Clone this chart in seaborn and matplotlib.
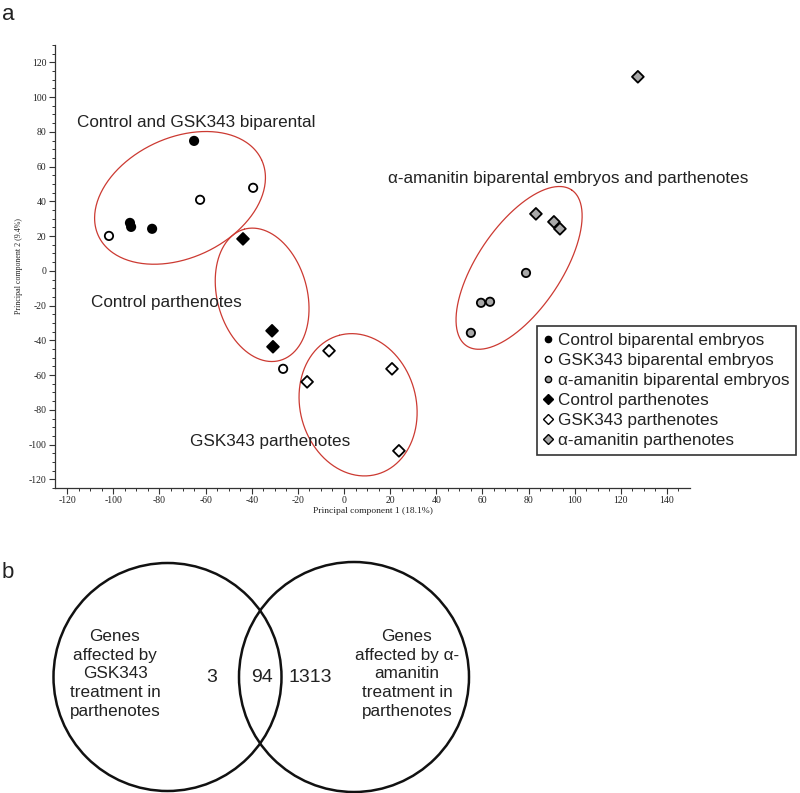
import numpy as np
import pandas as pd
import matplotlib
matplotlib.use("Agg")
import matplotlib.pyplot as plt
import seaborn as sns
from matplotlib.lines import Line2D
from matplotlib.patches import Circle

# ---------------- data ----------------
groups = ["Control biparental embryos", "GSK343 biparental embryos",
          "α-amanitin biparental embryos", "Control parthenotes",
          "GSK343 parthenotes", "α-amanitin parthenotes"]
ctrl_bi_x = [-65.0, -92.8, -92.3, -83.2]
ctrl_bi_y = [74.8, 27.6, 25.3, 24.2]
gsk_bi_x = [-101.9, -62.4, -39.4, -26.4]
gsk_bi_y = [20.1, 40.9, 47.8, -56.4]
ama_bi_x = [78.9, 59.4, 63.3, 55.0]
ama_bi_y = [-1.2, -18.4, -17.8, -35.7]
ctrl_pa_x = [-43.8, -31.2, -30.8]
ctrl_pa_y = [18.4, -34.5, -43.7]
gsk_pa_x = [-16.0, -6.5, 20.8, 23.8]
gsk_pa_y = [-63.9, -46.0, -56.4, -103.6]
ama_pa_x = [127.4, 83.2, 91.0, 93.6]
ama_pa_y = [111.7, 32.8, 28.2, 24.2]

xticks = list(range(-120, 141, 20))
yticks = list(range(-120, 121, 20))

venn_counts = [3, 94, 1313]
venn_left_label = "Genes\naffected by\nGSK343\ntreatment in\nparthenotes"
venn_right_label = "Genes\naffected by α-\namanitin\ntreatment in\nparthenotes"

cluster_labels = ["Control and GSK343 biparental",
                  "α-amanitin biparental embryos and parthenotes",
                  "Control parthenotes", "GSK343 parthenotes"]

xs = [ctrl_bi_x, gsk_bi_x, ama_bi_x, ctrl_pa_x, gsk_pa_x, ama_pa_x]
ys = [ctrl_bi_y, gsk_bi_y, ama_bi_y, ctrl_pa_y, gsk_pa_y, ama_pa_y]
df = pd.DataFrame({
    "PC1": np.concatenate(xs),
    "PC2": np.concatenate(ys),
    "group": np.concatenate([[g] * len(x) for g, x in zip(groups, xs)]),
})

GRAY = "#a8a8a8"
palette = {groups[0]: "black", groups[1]: "white", groups[2]: GRAY,
           groups[3]: "black", groups[4]: "white", groups[5]: GRAY}
markers = {groups[0]: "o", groups[1]: "o", groups[2]: "o",
           groups[3]: "D", groups[4]: "D", groups[5]: "D"}

# ---------------- style ----------------
sns.set_style("ticks")
plt.rcParams["font.family"] = ["Liberation Sans", "DejaVu Sans"]
SERIF = ["Liberation Serif", "DejaVu Serif"]
TXT = "#222222"

W, H = 800, 793
fig = plt.figure(figsize=(W / 100, H / 100), dpi=100)

# main PCA axes (pixel box: left 55, right 690, top 45, bottom 488)
ax = fig.add_axes([55 / W, 1 - 488 / H, (690 - 55) / W, (488 - 45) / H])
sns.scatterplot(data=df, x="PC1", y="PC2", hue="group", style="group",
                palette=palette, markers=markers, s=36, edgecolor="black",
                linewidth=1.3, legend=False, ax=ax, zorder=3)

ax.set_xlim(-125.3, 150)
ax.set_ylim(-125, 130)
ax.set_xticks(xticks)
ax.set_yticks(yticks)
ax.set_xticks(np.arange(-120, 150, 5), minor=True)
ax.set_yticks(np.arange(-125, 131, 5), minor=True)
ax.set_xticklabels([str(t) for t in xticks], fontfamily=SERIF, fontsize=7, color=TXT)
ax.set_yticklabels([str(t) for t in yticks], fontfamily=SERIF, fontsize=7, color=TXT)
ax.tick_params(which="major", length=4, width=0.8, color="#333333", pad=2)
ax.tick_params(which="minor", length=2.5, width=0.7, color="#333333")
for sp in ["top", "right"]:
    ax.spines[sp].set_visible(False)
for sp in ["left", "bottom"]:
    ax.spines[sp].set_linewidth(0.9)
    ax.spines[sp].set_color("#333333")
ax.set_xlabel("Principal component 1 (18.1%)", fontfamily=SERIF, fontsize=6.8,
              color=TXT, labelpad=1)
ax.set_ylabel("Principal component 2 (9.4%)", fontfamily=SERIF, fontsize=5.8,
              color=TXT, labelpad=4)

# cluster ellipses (center in data units, semi-axes in pixels, angle in degrees on screen)
fig.canvas.draw()
bb = ax.get_window_extent()
sx = bb.width / (ax.get_xlim()[1] - ax.get_xlim()[0])
sy = bb.height / (ax.get_ylim()[1] - ax.get_ylim()[0])
ellipses = [(-71.1, 42.0, 90, 60, 25), (-35.5, -13.8, 68, 45, 105),
            (6.1, -77.1, 72, 58, 105), (75.9, 1.7, 94, 42, 56)]
t = np.linspace(0, 2 * np.pi, 300)
for cx, cy, a, b, ang in ellipses:
    phi = np.deg2rad(ang)
    dx = a * np.cos(t) * np.cos(phi) - b * np.sin(t) * np.sin(phi)
    dy = a * np.cos(t) * np.sin(phi) + b * np.sin(t) * np.cos(phi)
    ax.plot(cx + dx / sx, cy + dy / sy, color="#cc3a32", lw=0.9, zorder=2)

# cluster labels (positioned in figure pixels)
label_pos = [(77, 122), (388, 178), (91, 303), (190, 442)]
for txt, (px, py) in zip(cluster_labels, label_pos):
    fig.text(px / W, 1 - py / H, txt, fontsize=12.3, color=TXT,
             ha="left", va="center")

# legend
handles = []
for g in groups:
    handles.append(Line2D([], [], linestyle="none", marker=markers[g],
                          markersize=4.5 if markers[g] == "o" else 5,
                          markerfacecolor=palette[g], markeredgecolor="black",
                          markeredgewidth=1.0))
leg = ax.legend(handles, groups, loc="upper left",
                bbox_to_anchor=(537 / W, 1 - 326 / H), bbox_transform=fig.transFigure,
                fontsize=12.3, frameon=True, fancybox=False, framealpha=1,
                edgecolor="#333333", borderpad=0.4, labelspacing=0.3,
                handlelength=0.5, handletextpad=0.33, borderaxespad=0)
leg.get_frame().set_linewidth(1.2)
for t_ in leg.get_texts():
    t_.set_color(TXT)

# panel letters
fig.text(2 / W, 1 - 14 / H, "a", fontsize=16, color=TXT, ha="left", va="center")
fig.text(2 / W, 1 - 573 / H, "b", fontsize=16, color=TXT, ha="left", va="center")

# ---------------- Venn diagram ----------------
ax2 = fig.add_axes([0, 0, 1, 253 / H])
ax2.set_xlim(0, 800)
ax2.set_ylim(793, 540)
ax2.axis("off")
ax2.add_patch(Circle((167.5, 677), 114, fill=False, lw=1.8, ec="#111111"))
ax2.add_patch(Circle((354, 677), 115, fill=False, lw=1.8, ec="#111111"))
ax2.text(115, 674, venn_left_label, ha="center", va="center", fontsize=12.3,
         color=TXT, linespacing=1.3)
ax2.text(407, 674, venn_right_label, ha="center", va="center", fontsize=12.3,
         color=TXT, linespacing=1.3)
for val, px in zip(venn_counts, [212, 262, 310]):
    ax2.text(px, 677, str(val), ha="center", va="center", fontsize=14, color=TXT)

fig.savefig("out.png", dpi=100, facecolor="white")
